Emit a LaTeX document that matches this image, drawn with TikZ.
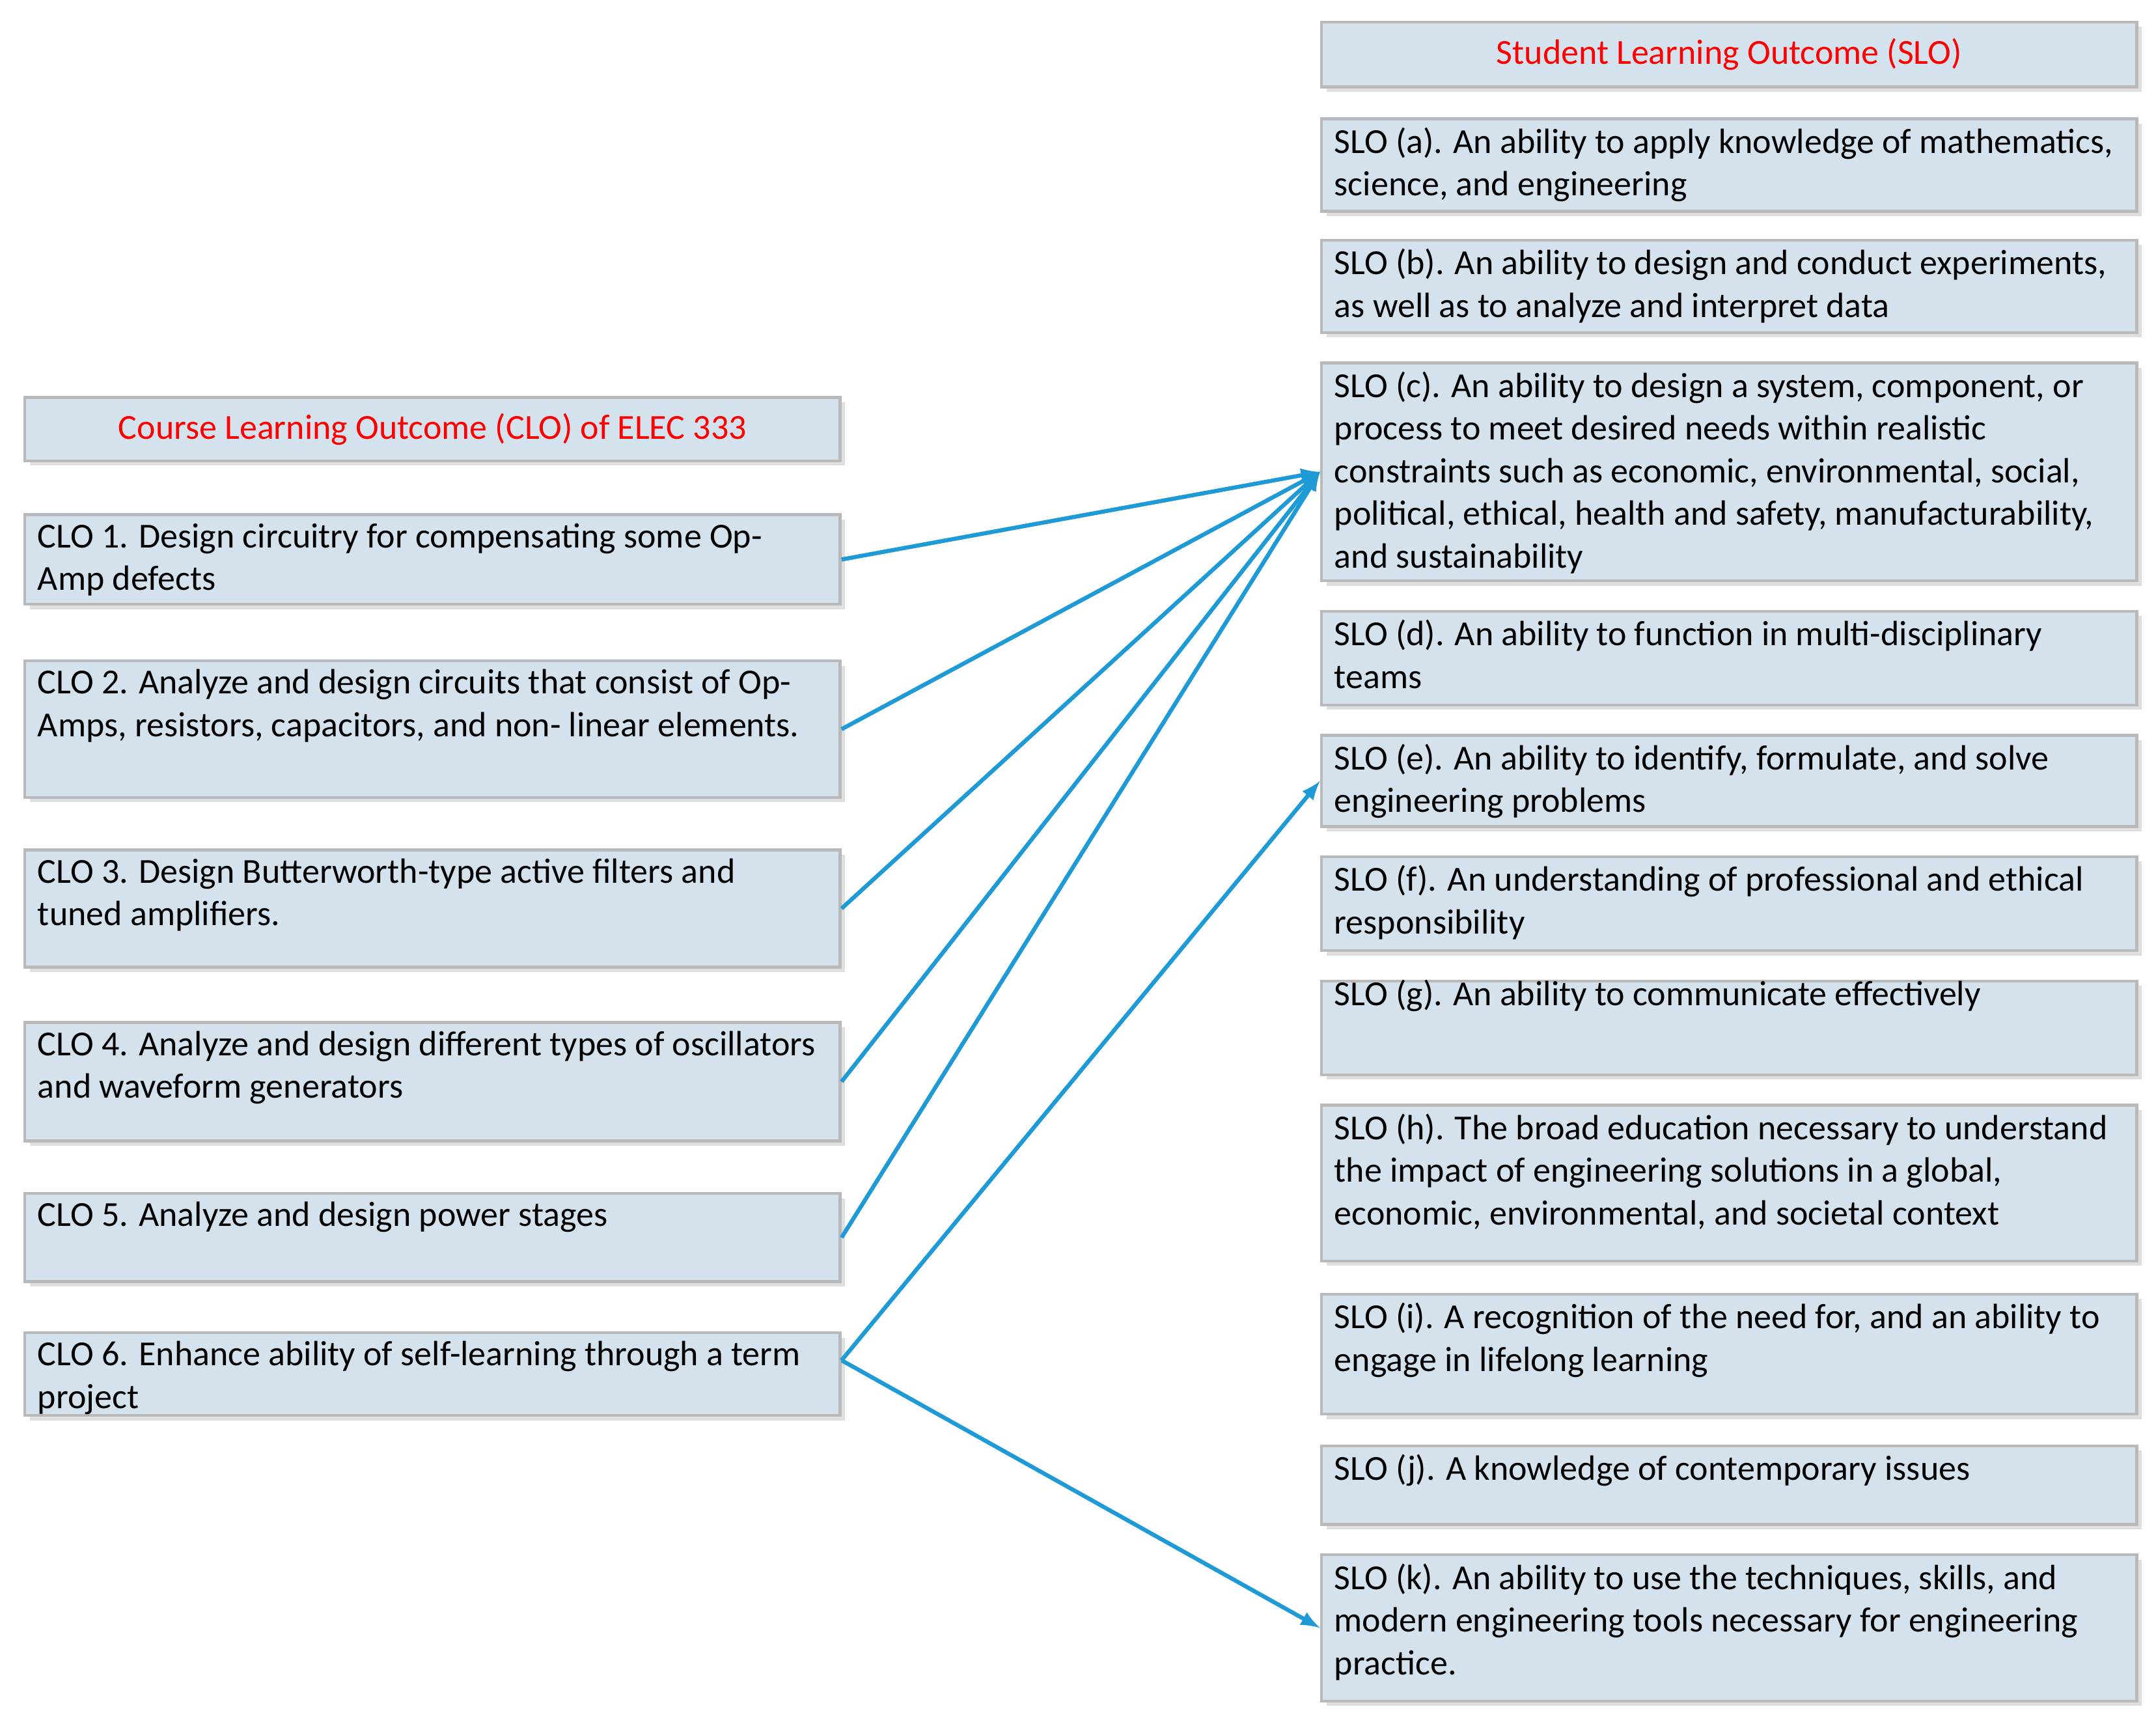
\documentclass[tikz,border=0pt]{standalone}
\usepackage{fontspec}
\setmainfont{Carlito}
\usetikzlibrary{shadows}
\definecolor{boxblue}{HTML}{D4E2EE}
\definecolor{arr}{HTML}{1E9AD6}
\begin{document}
\begin{tikzpicture}[x=0.02cm,y=-0.02cm,
 box/.style={draw=gray!55,line width=1.2pt,fill=boxblue,inner sep=0pt,anchor=north west,
   drop shadow={opacity=0.25,shadow xshift=2pt,shadow yshift=-2pt}},
 txt/.style={anchor=north west,align=left,inner sep=0pt,font=\fontsize{14.5}{17.6}\selectfont},
 ttl/.style={text=red,font=\fontsize{14.5}{17.6}\selectfont},
 link/.style={draw=arr,line width=1.7pt,-{latex}}]
\useasboundingbox (0,0) rectangle (1563,1248);
% helper macro
\newcommand\mkbox[5]{\node[box,minimum width=591*0.02cm,minimum height={(#4-#3)*0.02cm}] (#1) at (#2,#3) {};
 \node[txt] at (#2+10,#3+7) {#5};}
% left
\node[box,minimum width=591*0.02cm,minimum height=46*0.02cm] (clot) at (17,287) {};
\node[ttl] at (clot.center) {Course Learning Outcome (CLO) of ELEC 333};
\mkbox{clo1}{17}{372}{437}{CLO 1. Design circuitry for compensating some Op-\\Amp defects}
\mkbox{clo2}{17}{478}{577}{CLO 2. Analyze and design circuits that consist of Op-\\Amps, resistors, capacitors, and non- linear elements.}
\mkbox{clo3}{17}{615}{700}{CLO 3. Design Butterworth-type active filters and\\tuned amplifiers.}
\mkbox{clo4}{17}{740}{826}{CLO 4. Analyze and design different types of oscillators\\and waveform generators}
\mkbox{clo5}{17}{864}{928}{CLO 5. Analyze and design power stages}
\mkbox{clo6}{17}{965}{1025}{CLO 6. Enhance ability of self-learning through a term\\project}
% right
\node[box,minimum width=591*0.02cm,minimum height=47*0.02cm] (slot) at (957,15) {};
\node[ttl] at (slot.center) {Student Learning Outcome (SLO)};
\mkbox{sloa}{957}{85}{152}{SLO (a). An ability to apply knowledge of mathematics,\\science, and engineering}
\mkbox{slob}{957}{173}{240}{SLO (b). An ability to design and conduct experiments,\\as well as to analyze and interpret data}
\mkbox{sloc}{957}{262}{420}{SLO (c). An ability to design a system, component, or\\process to meet desired needs within realistic\\constraints such as economic, environmental, social,\\political, ethical, health and safety, manufacturability,\\and sustainability}
\mkbox{slod}{957}{442}{510}{SLO (d). An ability to function in multi-disciplinary\\teams}
\mkbox{sloe}{957}{532}{598}{SLO (e). An ability to identify, formulate, and solve\\engineering problems}
\mkbox{slof}{957}{620}{688}{SLO (f). An understanding of professional and ethical\\responsibility}
\mkbox{slog}{957}{710}{778}{\\[-11pt]SLO (g). An ability to communicate effectively}
\mkbox{sloh}{957}{800}{913}{SLO (h). The broad education necessary to understand\\the impact of engineering solutions in a global,\\economic, environmental, and societal context}
\mkbox{sloi}{957}{937}{1024}{SLO (i). A recognition of the need for, and an ability to\\engage in lifelong learning}
\mkbox{sloj}{957}{1047}{1104}{SLO (j). A knowledge of contemporary issues}
\mkbox{slok}{957}{1126}{1232}{SLO (k). An ability to use the techniques, skills, and\\modern engineering tools necessary for engineering\\practice.}
% arrows
\coordinate (c6) at ([yshift=0.2cm]clo6.east);
\foreach \s in {clo1,clo2,clo3,clo4,clo5} \draw[link] (\s.east) -- (sloc.west);
\draw[link] (c6) -- (sloe.west);
\draw[link] (c6) -- (slok.west);
\end{tikzpicture}
\end{document}
